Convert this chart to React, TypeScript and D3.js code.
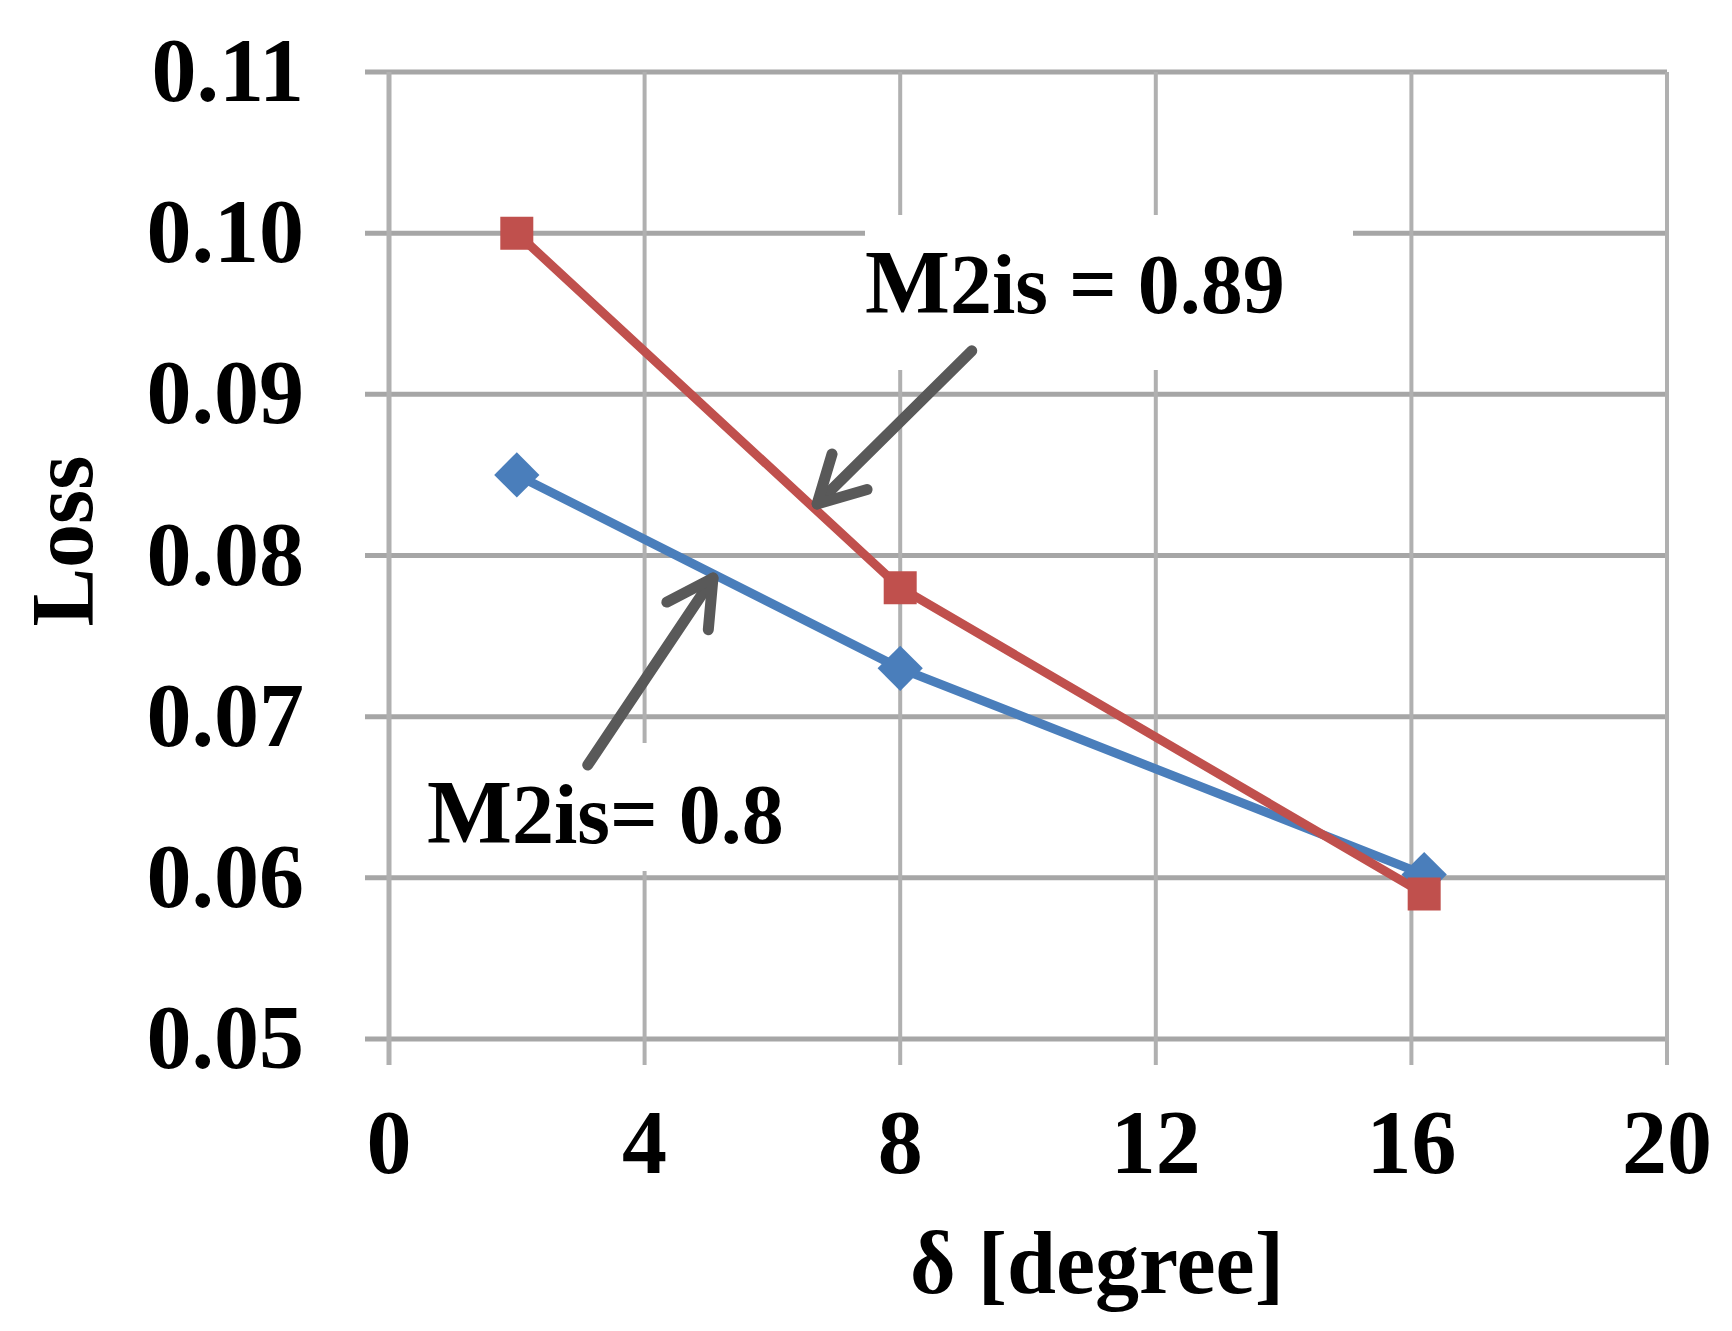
import * as d3 from 'd3';
import React, { useEffect } from 'react';

// values
const xTicks = [0, 4, 8, 12, 16, 20];
const yTicks = [0.05, 0.06, 0.07, 0.08, 0.09, 0.10, 0.11];
const delta = [2, 8, 16.2];
const lossBlue = [0.085, 0.073, 0.0602]; // M2is = 0.82
const lossRed = [0.1, 0.078, 0.059]; // M2is = 0.89

// annotation arrows, [tailX, tailY, tipX, tipY] in data units
const arrowRed = [9.12, 0.0927, 6.7, 0.0832];
const arrowBlue = [3.11, 0.067, 5.07, 0.0786];

const FONT = '"Liberation Serif", "Times New Roman", serif';

export default () => {
    useEffect(() => {
        document.body.style.margin = '0';
    }, []);

    const width = 1732;
    const height = 1331;

    const x = d3.scaleLinear().domain([0, 20]).range([389, 1667]);
    const y = d3.scaleLinear().domain([0.05, 0.11]).range([1039, 72]);

    const line = d3.line<number>()
        .x((_, i) => x(delta[i]))
        .y((d) => y(d));

    const square = d3.symbol().type(d3.symbolSquare).size(33 * 33);
    const diamond = d3.symbol().type(d3.symbolSquare).size(32 * 32);

    const arrow = (a: number[], key: string) => {
        const [x0, y0, x1, y1] = [x(a[0]), y(a[1]), x(a[2]), y(a[3])];
        const ang = Math.atan2(y0 - y1, x0 - x1);
        const len = 52;
        const spread = 0.5;
        const p1 = [x1 + len * Math.cos(ang - spread), y1 + len * Math.sin(ang - spread)];
        const p2 = [x1 + len * Math.cos(ang + spread), y1 + len * Math.sin(ang + spread)];
        return (
            <g key={key} stroke="#595959" strokeWidth={11} fill="none" strokeLinecap="round" strokeLinejoin="round">
                <line x1={x0} y1={y0} x2={x1} y2={y1} />
                <polyline points={`${p1[0]},${p1[1]} ${x1},${y1} ${p2[0]},${p2[1]}`} />
            </g>
        );
    };

    return (
        <svg width={width} height={height} style={{ display: 'block', background: '#fff' }}>
            <defs>
                <clipPath id="clip-blue">
                    <rect x={400} y={740} width={383} height={135} />
                </clipPath>
            </defs>

            {/* grid */}
            <g>
                {yTicks.map((t) => (
                    <line key={'h' + t} x1={x(0) - 24} x2={x(20)} y1={y(t)} y2={y(t)} stroke="#a6a6a6" strokeWidth={5} />
                ))}
                {xTicks.map((t) => (
                    <line key={'v' + t} x1={x(t)} x2={x(t)} y1={y(0.11)} y2={y(0.05) + 26} stroke="#b0b0b0" strokeWidth={t === 0 ? 5 : 4} />
                ))}
            </g>

            {/* label backgrounds */}
            <rect x={865} y={215} width={488} height={155} fill="#fff" />
            <rect x={400} y={743} width={383} height={128} fill="#fff" />

            {/* tick labels */}
            <g fontFamily={FONT} fontWeight="bold" fontSize={90} fill="#000">
                {yTicks.map((t) => (
                    <text key={'yl' + t} x={304} y={y(t) + 29} textAnchor="end">{t.toFixed(2)}</text>
                ))}
                {xTicks.map((t) => (
                    <text key={'xl' + t} x={x(t)} y={1173} textAnchor="middle">{t}</text>
                ))}
            </g>

            {/* axis titles */}
            <text x={1097} y={1293} textAnchor="middle" fontFamily={FONT} fontWeight="bold" fontSize={88}>δ [degree]</text>
            <text transform={`translate(92, 541) rotate(-90)`} textAnchor="middle" fontFamily={FONT} fontWeight="bold" fontSize={88}>Loss</text>

            {/* series */}
            <path d={line(lossBlue) as string} fill="none" stroke="#4a7ebb" strokeWidth={9} />
            {lossBlue.map((v, i) => (
                <path key={'b' + i} d={diamond() as string} transform={`translate(${x(delta[i])}, ${y(v)}) rotate(45)`} fill="#4a7ebb" />
            ))}
            <path d={line(lossRed) as string} fill="none" stroke="#c0504d" strokeWidth={9} />
            {lossRed.map((v, i) => (
                <path key={'r' + i} d={square() as string} transform={`translate(${x(delta[i])}, ${y(v)})`} fill="#c0504d" />
            ))}

            {/* annotations */}
            {arrow(arrowRed, 'ar')}
            {arrow(arrowBlue, 'ab')}
            <text x={865} y={313} fontFamily={FONT} fontWeight="bold" fill="#000">
                <tspan fontSize={90}>M</tspan>
                <tspan fontSize={84}>2is = 0.89</tspan>
            </text>
            <g clipPath="url(#clip-blue)">
                <text x={427} y={843} fontFamily={FONT} fontWeight="bold" fill="#000">
                    <tspan fontSize={90}>M</tspan>
                    <tspan fontSize={84}>2is= 0.82</tspan>
                </text>
            </g>
        </svg>
    );
};
